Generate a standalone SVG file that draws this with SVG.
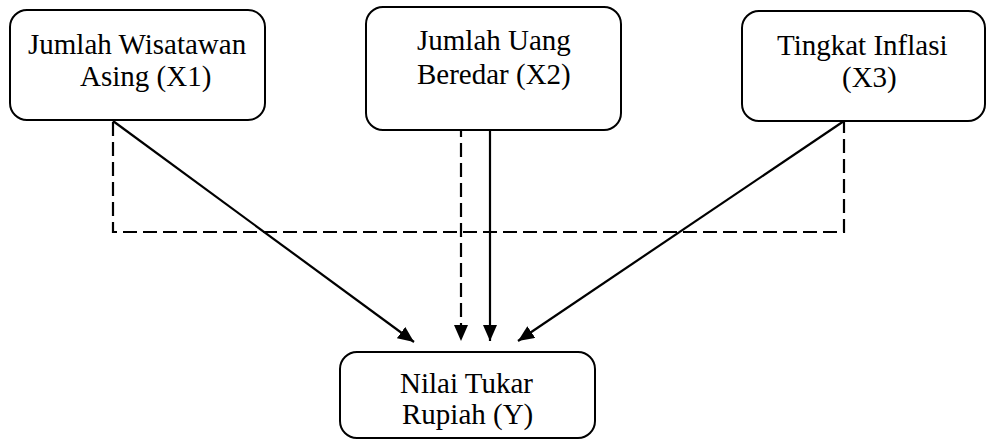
<svg xmlns="http://www.w3.org/2000/svg" width="987" height="441" viewBox="0 0 987 441">
  <style>
    .box { fill: #ffffff; stroke: #000000; stroke-width: 2; }
    .solid { stroke: #000000; stroke-width: 2.2; fill: none; }
    .dash { stroke: #000000; stroke-width: 2.2; fill: none; stroke-dasharray: 14 6; }
  </style>
  <defs>
    <marker id="arrow" viewBox="0 0 16 14" refX="16" refY="7" markerWidth="16" markerHeight="14" markerUnits="userSpaceOnUse" orient="auto">
      <path d="M0,0 L16,7 L0,14 Z" fill="#000000"/>
    </marker>
  </defs>

  <rect width="987" height="441" fill="#ffffff"/>

  <g id="connectors">
    <!-- dashed joint-effect path linking X1 and X3 -->
    <polyline class="dash" points="113,122 113,232 844,232 844,122"/>
    <line class="dash" x1="461" y1="123" x2="461" y2="341" marker-end="url(#arrow)"/>
    <!-- direct effects -->
    <line class="solid" x1="113" y1="121" x2="414" y2="342" marker-end="url(#arrow)"/>
    <line class="solid" x1="490" y1="121" x2="490" y2="341" marker-end="url(#arrow)"/>
    <line class="solid" x1="844" y1="121" x2="518" y2="341" marker-end="url(#arrow)"/>
  </g>

  <g id="x1">
    <rect class="box" x="10" y="10" width="255" height="110" rx="17" ry="17"/>
    <text x="28" y="54" font-family="Liberation Serif, serif" font-size="29">Jumlah Wisatawan</text>
    <text x="80" y="86" font-family="Liberation Serif, serif" font-size="29">Asing (X1)</text>
  </g>

  <g id="x2">
    <rect class="box" x="366" y="7" width="255" height="123" rx="17" ry="17"/>
    <text x="417" y="50" font-family="Liberation Serif, serif" font-size="29">Jumlah Uang</text>
    <text x="417" y="84" font-family="Liberation Serif, serif" font-size="29">Beredar (X2)</text>
  </g>

  <g id="x3">
    <rect class="box" x="742" y="11" width="243" height="110" rx="17" ry="17"/>
    <text x="777" y="55" font-family="Liberation Serif, serif" font-size="29">Tingkat Inflasi</text>
    <text x="842" y="87" font-family="Liberation Serif, serif" font-size="29">(X3)</text>
  </g>

  <g id="y">
    <rect class="box" x="340" y="352" width="255" height="86" rx="17" ry="17"/>
    <text x="400" y="393" font-family="Liberation Serif, serif" font-size="29">Nilai Tukar</text>
    <text x="402" y="424" font-family="Liberation Serif, serif" font-size="29">Rupiah (Y)</text>
  </g>
</svg>
